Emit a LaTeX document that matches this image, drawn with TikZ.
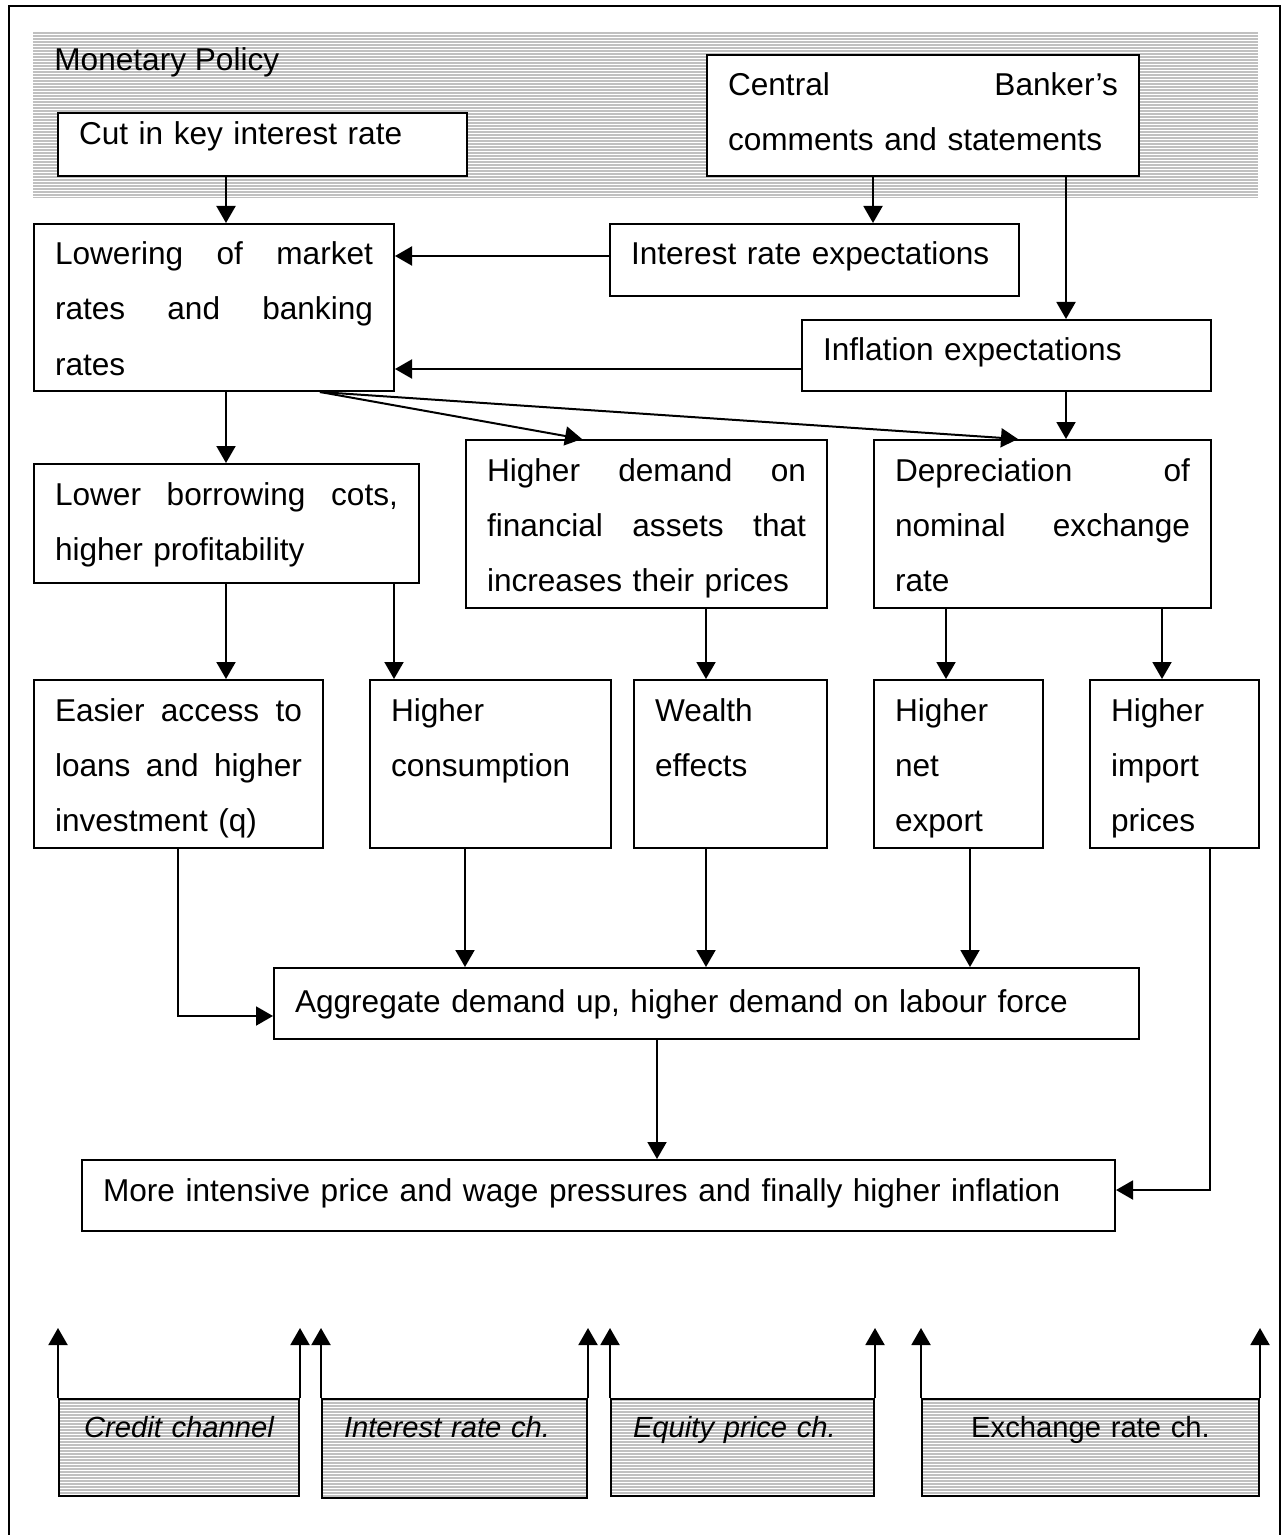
\documentclass[tikz,border=0pt]{standalone}
\usepackage{fontspec}
\setmainfont{Liberation Sans}
\usetikzlibrary{arrows.meta}
\definecolor{chgray}{RGB}{192,192,192}
\begin{document}
\begin{tikzpicture}[%
        x=.5pt,y=-.5pt,%
        font=\fontsize{15.8pt}{27.5pt}\selectfont,%
        box/.style={%
            draw,%
            line width=1pt,%
            fill=white,%
            anchor=north west,%
            align=left,%
            inner xsep=10.5pt,%
            inner ysep=0pt,%
            text height=20.5pt%
        },%
        hatch/.style={%
            fill=chgray,%
            path picture={%
                \foreach \k in {0,...,60}
                    \draw[white,line width=.5pt]
                        ([yshift=-\k*1.5pt-1.2pt]path picture bounding box.north west) --
                        ([yshift=-\k*1.5pt-1.2pt]path picture bounding box.north east);%
            }%
        },%
        channel/.style={%
            box,%
            hatch,%
            align=center,%
            inner xsep=2pt,%
            font=\fontsize{14.6pt}{20pt}\selectfont,%
            text height=19pt,%
            text depth=29.5pt%
        },%
        arr/.style={%
            line width=1pt,%
            -{Triangle[length=8.5pt,width=9.5pt]}%
        }%
    ]
    \useasboundingbox (0,0) rectangle (1286,1535);
    \draw [line width=1pt] (9,1545) -- (9,6) -- (1280,6) -- (1280,1545);
    \path [hatch] (33,32) rectangle (1258,198);
    \node (policy) at (54,71) [anchor=base west,inner sep=0pt]{Monetary Policy};

    \node (cut) at (57,112) [box,text height=16pt,text width=183.5pt,text depth=15.5pt]{Cut in key interest rate};
    \node (central) at (706,54) [box,text width=195pt,text depth=40pt]{Central\hfill Banker's\\comments and statements};
    \node (lower) at (33,223) [box,text width=159pt,text depth=63pt]{Lowering\hfill of\hfill market\\rates\hfill and\hfill banking\\rates};
    \node (irexp) at (609,223) [box,text width=183.5pt,text depth=15.5pt]{Interest rate expectations};
    \node (inflexp) at (801,319) [box,text width=183.5pt,text depth=15pt]{Inflation expectations};
    \node (borrow) at (33,463) [box,text width=171.5pt,text depth=39pt]{Lower\hfill borrowing\hfill cots,\\higher profitability};
    \node (assets) at (465,439) [box,text width=159.5pt,text depth=63.5pt]{Higher\hfill demand\hfill on\\financial\hfill assets\hfill that\\increases their prices};
    \node (deprec) at (873,439) [box,text width=147.5pt,text depth=63.5pt]{Depreciation\hfill of\\nominal\hfill exchange\\rate};
    \node (loans) at (33,679) [box,text width=123.5pt,text depth=63.5pt]{Easier\hfill access\hfill to\\loans\hfill and\hfill higher\\investment (q)};
    \node (consum) at (369,679) [box,text width=99.5pt,text depth=63.5pt]{Higher\\consumption};
    \node (wealth) at (633,679) [box,text width=75.5pt,text depth=63.5pt]{Wealth\\effects};
    \node (netexp) at (873,679) [box,text width=63.5pt,text depth=63.5pt]{Higher\\net\\export};
    \node (import) at (1089,679) [box,text width=63.5pt,text depth=63.5pt]{Higher\\import\\prices};
    \node (demand) at (273,967) [box,text height=22pt,text width=411.5pt,text depth=13.5pt]{Aggregate demand up, higher demand on labour force};
    \node (inflation) at (81,1159) [box,text width=495.5pt,text depth=15pt]{More intensive price and wage pressures and finally higher inflation};

    \node (credit) at (58,1398) [channel,text width=116pt]{\itshape Credit channel};
    \node (interest) at (321,1398) [channel,align=left,inner xsep=11pt,text width=110.5pt,text depth=30.5pt]{\itshape Interest rate ch.};
    \node (equity) at (610,1398) [channel,align=left,inner xsep=11pt,text width=109.5pt]{\itshape Equity price ch.};
    \node (exchange) at (921,1398) [channel,text width=164.5pt]{Exchange rate ch.};

    \draw [arr] ([xshift=84.5pt]cut.south west) -- ([xshift=96.5pt]lower.north west);
    \draw [arr] ([xshift=83.5pt]central.south west) -- ([xshift=132pt]irexp.north west);
    \draw [arr] ([xshift=180pt]central.south west) -- ([xshift=132.5pt]inflexp.north west);
    \draw [arr] ([yshift=2pt]irexp.west) -- ([yshift=2pt]irexp.west -| lower.east);
    \draw [arr] ([yshift=-6.75pt]inflexp.west) -- ([yshift=-6.75pt]inflexp.west -| lower.east);
    \draw [arr] ([xshift=132.5pt]inflexp.south west) -- ([xshift=96.5pt]deprec.north west);
    \draw [arr] ([xshift=96.5pt]lower.south west) -- ([xshift=96.5pt]borrow.north west);
    \draw [arr] ([xshift=143.5pt]lower.south west) -- ([xshift=58.5pt]assets.north west);
    \draw [arr] ([xshift=143.5pt]lower.south west) -- ([xshift=72.5pt]deprec.north west);
    \draw [arr] ([xshift=96.5pt]borrow.south west) -- ([xshift=96.5pt]loans.north west);
    \draw [arr] ([xshift=180.5pt]borrow.south west) -- ([xshift=12.5pt]consum.north west);
    \draw [arr] ([xshift=120.5pt]assets.south west) -- ([xshift=36.5pt]wealth.north west);
    \draw [arr] ([xshift=36.5pt]deprec.south west) -- ([xshift=36.5pt]netexp.north west);
    \draw [arr] ([xshift=144.5pt]deprec.south west) -- ([xshift=36.5pt]import.north west);
    \draw [arr] ([xshift=72.5pt]loans.south west) |- ([yshift=-6.25pt]demand.west);
    \draw [arr] ([xshift=48pt]consum.south west) -- ([xshift=96pt]demand.north west);
    \draw [arr] ([xshift=36.5pt]wealth.south west) -- ([xshift=216.5pt]demand.north west);
    \draw [arr] ([xshift=48.5pt]netexp.south west) -- ([xshift=348.5pt]demand.north west);
    \draw [arr] ([xshift=192pt]demand.south west) -- ([xshift=288pt]inflation.north west);
    \draw [arr] ([xshift=60.5pt]import.south west) |- ([yshift=2.75pt]inflation.east);

    \foreach \ch in {credit,interest,equity,exchange}{
        \draw [arr] (\ch.north west) -- ([yshift=35pt]\ch.north west);
        \draw [arr] (\ch.north east) -- ([yshift=35pt]\ch.north east);
    }
\end{tikzpicture}
\end{document}
